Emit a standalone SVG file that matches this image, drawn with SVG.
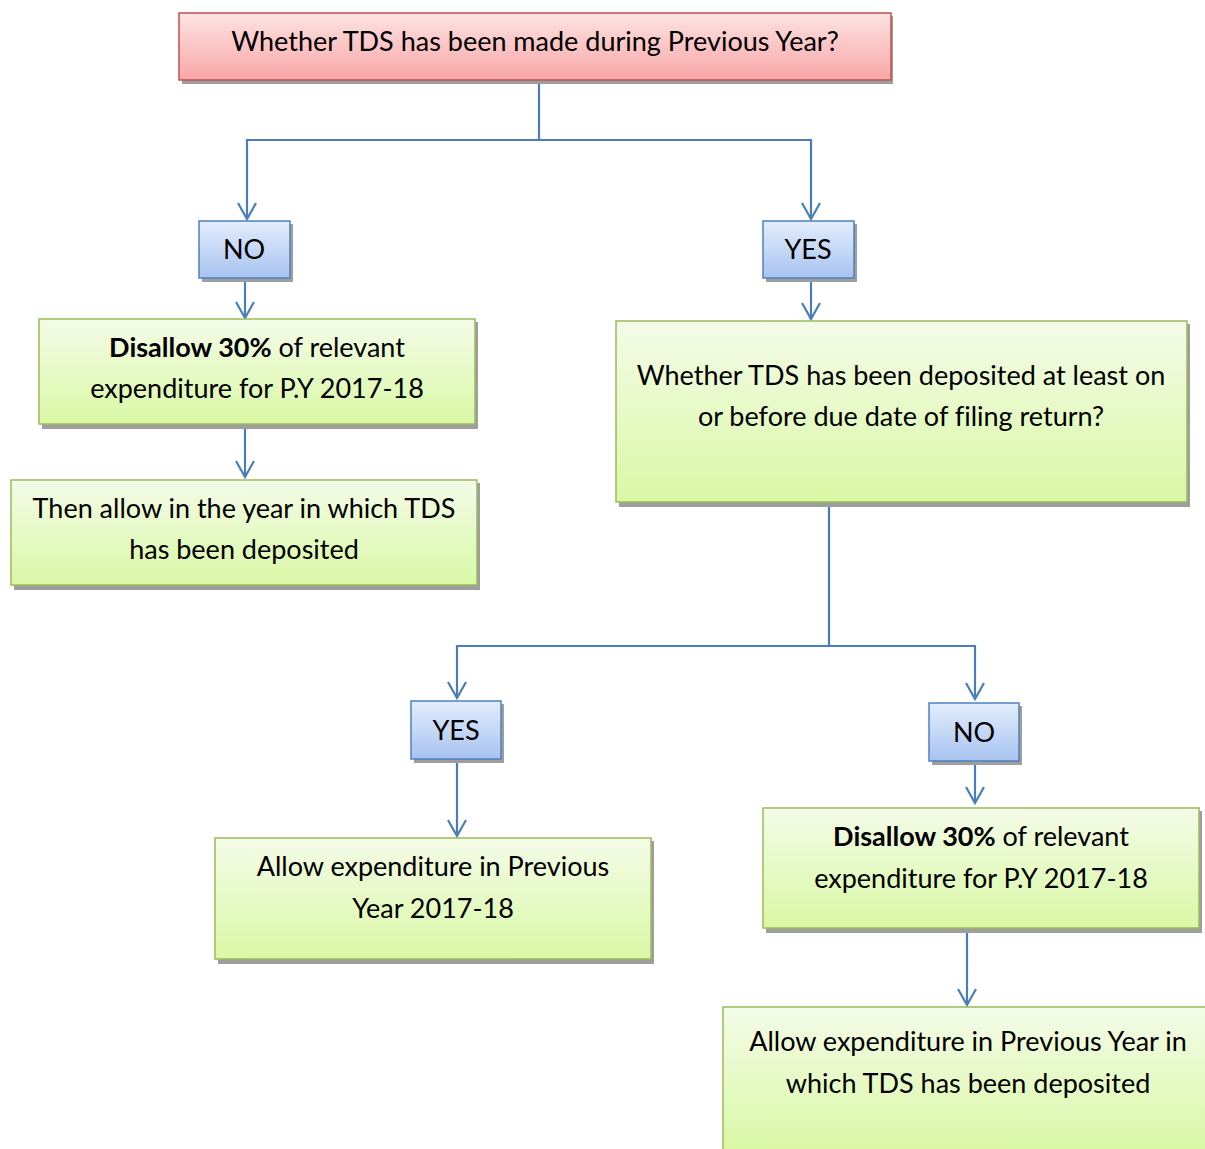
<svg xmlns="http://www.w3.org/2000/svg" width="1205" height="1149" viewBox="0 0 1205 1149">
<defs>
<linearGradient id="gRed" x1="0" y1="0" x2="0" y2="1"><stop offset="0" stop-color="#fde3e3"/><stop offset="1" stop-color="#f8a6a6"/></linearGradient>
<linearGradient id="gBlue" x1="0" y1="0" x2="0" y2="1"><stop offset="0" stop-color="#e3edfc"/><stop offset="1" stop-color="#a7c3f0"/></linearGradient>
<linearGradient id="gGreen" x1="0" y1="0" x2="0" y2="1"><stop offset="0" stop-color="#f4fbe8"/><stop offset="1" stop-color="#d9f8a5"/></linearGradient>
<marker id="arr" viewBox="0 0 20 20" refX="18" refY="10" markerWidth="20" markerHeight="20" markerUnits="userSpaceOnUse" orient="auto">
<path d="M2,1 L18,10 L2,19" fill="none" stroke="#4a7ebb" stroke-width="2.2"/>
</marker>
</defs>
<style>
text{font-family:Lato,"Open Sans","Liberation Sans",sans-serif;font-size:27px;fill:#000;text-anchor:middle;font-variant-ligatures:none}
.b{font-weight:bold}
.sh{fill:#9e9e9e}
.red{fill:url(#gRed);stroke:#c0504d;stroke-width:1.5}
.blue{fill:url(#gBlue);stroke:#4f81bd;stroke-width:1.5}
.green{fill:url(#gGreen);stroke:#9bbb59;stroke-width:1.5}
.c{fill:none;stroke:#4a7ebb;stroke-width:2.2}
</style>
<rect width="1205" height="1149" fill="#fff"/>
<g id="connectors">
<path class="c" d="M539,81 V140 H247 V219" marker-end="url(#arr)"/>
<path class="c" d="M539,140 H811 V219" marker-end="url(#arr)"/>
<path class="c" d="M245,279 V318" marker-end="url(#arr)"/>
<path class="c" d="M811,279 V319" marker-end="url(#arr)"/>
<path class="c" d="M245,425 V477" marker-end="url(#arr)"/>
<path class="c" d="M829,503 V646 H457 V698" marker-end="url(#arr)"/>
<path class="c" d="M829,646 H975 V699" marker-end="url(#arr)"/>
<path class="c" d="M457,760 V836" marker-end="url(#arr)"/>
<path class="c" d="M975,762 V803" marker-end="url(#arr)"/>
<path class="c" d="M967,929 V1005" marker-end="url(#arr)"/>
</g>
<g id="n-top">
<rect class="sh" x="182" y="16" width="711" height="68"/>
<rect class="red" x="179" y="13" width="712" height="67"/>
<text x="535" y="51">Whether TDS has been made during Previous Year?</text>
</g>
<g id="n-no1">
<rect class="sh" x="202" y="224" width="91" height="58"/>
<rect class="blue" x="199" y="221" width="91" height="57"/>
<text x="244" y="259">NO</text>
</g>
<g id="n-yes1">
<rect class="sh" x="766" y="224" width="91" height="58"/>
<rect class="blue" x="763" y="221" width="91" height="57"/>
<text x="808" y="259">YES</text>
</g>
<g id="n-disallow1">
<rect class="sh" x="42" y="322" width="436" height="107"/>
<rect class="green" x="39" y="319" width="436" height="105"/>
<text x="257" y="357"><tspan class="b">Disallow 30%</tspan> of relevant</text>
<text x="257" y="398">expenditure for P.Y 2017-18</text>
</g>
<g id="n-then">
<rect class="sh" x="14" y="483" width="466" height="107"/>
<rect class="green" x="11" y="480" width="466" height="105"/>
<text x="244" y="518">Then allow in the year in which TDS</text>
<text x="244" y="559">has been deposited</text>
</g>
<g id="n-whether2">
<rect class="sh" x="619" y="324" width="571" height="183"/>
<rect class="green" x="616" y="321" width="571" height="181"/>
<text x="901" y="385">Whether TDS has been deposited at least on</text>
<text x="901" y="426">or before due date of filing return?</text>
</g>
<g id="n-yes2">
<rect class="sh" x="414" y="704" width="90" height="59"/>
<rect class="blue" x="411" y="701" width="90" height="58"/>
<text x="456" y="740">YES</text>
</g>
<g id="n-no2">
<rect class="sh" x="932" y="706" width="90" height="59"/>
<rect class="blue" x="929" y="703" width="90" height="58"/>
<text x="974" y="742">NO</text>
</g>
<g id="n-allow1">
<rect class="sh" x="218" y="841" width="436" height="123"/>
<rect class="green" x="215" y="838" width="436" height="121"/>
<text x="433" y="876">Allow expenditure in Previous</text>
<text x="433" y="918">Year 2017-18</text>
</g>
<g id="n-disallow2">
<rect class="sh" x="766" y="811" width="436" height="122"/>
<rect class="green" x="763" y="808" width="436" height="120"/>
<text x="981" y="846"><tspan class="b">Disallow 30%</tspan> of relevant</text>
<text x="981" y="888">expenditure for P.Y 2017-18</text>
</g>
<g id="n-allow2">
<rect class="sh" x="726" y="1010" width="490" height="145"/>
<rect class="green" x="723" y="1007" width="490" height="145"/>
<text x="968" y="1051">Allow expenditure in Previous Year in</text>
<text x="968" y="1093">which TDS has been deposited</text>
</g>
</svg>
